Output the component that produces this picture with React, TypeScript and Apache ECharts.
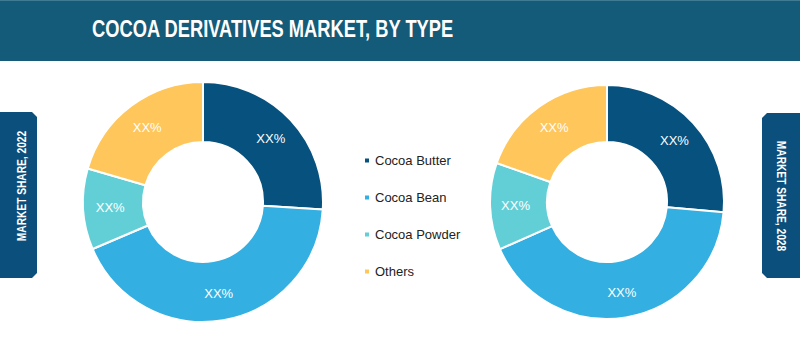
import React, { useEffect, useRef } from "react";
import * as echarts from "echarts";

const categories = ["Cocoa Butter", "Cocoa Bean", "Cocoa Powder", "Others"];
const share2022 = [26, 42.6, 10.9, 20.5];
const share2028 = [26.4, 42, 12, 19.6];
const colors = ["#07517E", "#33AFE1", "#62CFD7", "#FEC65B"];
const title = "COCOA DERIVATIVES MARKET, BY TYPE";
const leftTab = "MARKET SHARE, 2022";
const rightTab = "MARKET SHARE, 2028";
const sliceLabel = "XX%";

export default function App() {
  const ref = useRef<HTMLDivElement>(null);
  useEffect(() => {
    if (!ref.current) return;
    const chart = echarts.init(ref.current, undefined, { renderer: "svg" });
    const mkSeries = (values: number[], center: number[], radius: number[]) => ({
      type: "pie",
      center,
      radius,
      startAngle: 90,
      clockwise: true,
      silent: true,
      data: categories.map((c, i) => ({ name: c, value: values[i] })),
      itemStyle: { borderColor: "#ffffff", borderWidth: 2 },
      label: {
        show: true,
        position: "inside",
        formatter: sliceLabel,
        color: "#ffffff",
        fontSize: 13,
        fontFamily: "Liberation Sans, Arial, sans-serif",
      },
      labelLine: { show: false },
    });
    chart.setOption({
      animation: false,
      color: colors,
      legend: {
        orient: "vertical",
        left: 358,
        top: 149,
        itemWidth: 6,
        itemHeight: 6,
        itemGap: 24,
        icon: "rect",
        selectedMode: false,
        data: categories,
        textStyle: {
          color: "#222222",
          fontSize: 13,
          fontFamily: "Liberation Sans, Arial, sans-serif",
        },
      },
      graphic: [
        { type: "rect", shape: { x: 0, y: 0, width: 800, height: 61 }, style: { fill: "#135B78" } },
        { type: "rect", shape: { x: 0, y: 0, width: 800, height: 1 }, style: { fill: "#3F7B94" } },
        {
          type: "text",
          x: 92,
          y: 29,
          scaleX: 0.763,
          style: {
            text: title,
            fill: "#ffffff",
            fontSize: 24,
            fontWeight: "bold",
            fontFamily: "Liberation Sans, Arial, sans-serif",
            textAlign: "left",
            textVerticalAlign: "middle",
          },
        },
        {
          type: "polygon",
          shape: { points: [[0, 112], [32, 112], [37, 117], [37, 273], [32, 278], [0, 278]] },
          style: { fill: "#0B4F7C" },
        },
        {
          type: "polygon",
          shape: { points: [[800, 113], [767, 113], [762, 118], [762, 273], [767, 278], [800, 278]] },
          style: { fill: "#0B4F7C" },
        },
        {
          type: "text",
          x: 22,
          y: 186,
          rotation: Math.PI / 2,
          scaleX: 0.85,
          style: {
            text: leftTab,
            fill: "#ffffff",
            fontSize: 12,
            fontWeight: "bold",
            fontFamily: "Liberation Sans, Arial, sans-serif",
            textAlign: "center",
            textVerticalAlign: "middle",
          },
        },
        {
          type: "text",
          x: 781,
          y: 196,
          rotation: -Math.PI / 2,
          scaleX: 0.85,
          style: {
            text: rightTab,
            fill: "#ffffff",
            fontSize: 12,
            fontWeight: "bold",
            fontFamily: "Liberation Sans, Arial, sans-serif",
            textAlign: "center",
            textVerticalAlign: "middle",
          },
        },
      ],
      series: [
        mkSeries(share2022, [203, 202], [60, 120]),
        mkSeries(share2028, [607, 202], [60, 117]),
      ],
    });
    return () => chart.dispose();
  }, []);
  return (
    <div
      ref={ref}
      style={{ position: "fixed", left: 0, top: 0, width: 800, height: 356, background: "#ffffff" }}
    />
  );
}
